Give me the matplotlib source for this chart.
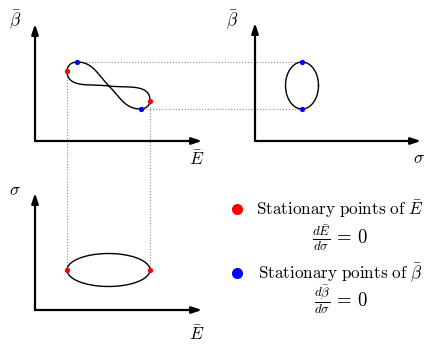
import numpy as np
import matplotlib
matplotlib.use('Agg')
import matplotlib.pyplot as plt

plt.rcParams['mathtext.fontset'] = 'cm'

# key points (pixel-like units, y downwards)
red_x = [67, 150]
red_y = [71, 100.5]
blue_x = [77, 140.5]
blue_y = [62, 109]
cross = (109, 86)
steep = (1, 1.0)       # branch blue -> blue at the crossing
shallow = (-1, -0.13)  # branch red -> red at the crossing

# bottom ellipse (E vs sigma) and right ellipse (sigma vs beta)
ell_bot = dict(cx=108.5, cy=270, rx=41.5, ry=16.5)
ell_right = dict(cx=302, cy=85.5, rx=16.5, ry=23.5)

# axes frames: origin x, origin y, x tip, y tip
frames = [(35, 141, 202, 24), (255, 141, 421, 23), (35, 310, 202, 193)]


def hermite(p0, p1, d0, d1, k=1.2, n=60):
    p0, p1 = np.array(p0, float), np.array(p1, float)
    d0 = np.array(d0, float) / np.hypot(*d0)
    d1 = np.array(d1, float) / np.hypot(*d1)
    L = np.hypot(*(p1 - p0)) * k
    t = np.linspace(0, 1, n)[:, None]
    h00 = 2 * t**3 - 3 * t**2 + 1
    h10 = t**3 - 2 * t**2 + t
    h01 = -2 * t**3 + 3 * t**2
    h11 = t**3 - t**2
    return h00 * p0 + h10 * L * d0 + h01 * p1 + h11 * L * d1


fig = plt.figure(figsize=(4.36, 3.54), dpi=100)
ax = fig.add_axes([0, 0, 1, 1])
ax.set_xlim(0, 436)
ax.set_ylim(354, 0)
ax.axis('off')

# axes arrows
for x0, y0, xt, yt in frames:
    for tip in [(xt, y0), (x0, yt)]:
        ax.annotate('', xy=tip, xytext=(x0, y0),
                    arrowprops=dict(arrowstyle='-|>,head_length=0.6,head_width=0.2',
                                    lw=1.6, color='k', shrinkA=0, shrinkB=0))

# figure-eight curve
pts = [(red_x[0], red_y[0]), (blue_x[0], blue_y[0]), cross,
       (blue_x[1], blue_y[1]), (red_x[1], red_y[1]), cross, (red_x[0], red_y[0])]
dirs = [(0, -1), (1, 0), steep, (1, 0), (0, -1), shallow, (0, -1)]
segs = [hermite(pts[i], pts[i + 1], dirs[i], dirs[i + 1]) for i in range(6)]
curve = np.vstack(segs)
ax.plot(curve[:, 0], curve[:, 1], color='k', lw=1.0, zorder=3)

# ellipses
t = np.linspace(0, 2 * np.pi, 300)
ax.plot(ell_bot['cx'] + ell_bot['rx'] * np.cos(t), ell_bot['cy'] + ell_bot['ry'] * np.sin(t),
        color='k', lw=1.0, zorder=3)
ax.plot(ell_right['cx'] + ell_right['rx'] * np.cos(t), ell_right['cy'] + ell_right['ry'] * np.sin(t),
        color='k', lw=1.0, zorder=3)

# dotted guides
dot = dict(color='0.55', lw=0.8, ls=(0, (1, 1.6)), zorder=1)
for bx, by in zip(blue_x, blue_y):
    ax.plot([bx, ell_right['cx']], [by, by], **dot)
for rx, ry in zip(red_x, red_y):
    ax.plot([rx, rx], [ry, ell_bot['cy']], **dot)

# stationary points
ax.plot(red_x, red_y, 'o', color='red', ms=3.8, mec='none', zorder=4)
ax.plot(blue_x, blue_y, 'o', color='blue', ms=3.8, mec='none', zorder=4)
ax.plot([ell_bot['cx'] - ell_bot['rx'], ell_bot['cx'] + ell_bot['rx']], [ell_bot['cy']] * 2,
        'o', color='red', ms=3.8, mec='none', zorder=4)
ax.plot([ell_right['cx']] * 2, [ell_right['cy'] - ell_right['ry'], ell_right['cy'] + ell_right['ry']],
        'o', color='blue', ms=3.8, mec='none', zorder=4)

# axis labels
fs = 12.5
ax.text(15, 20, r'$\bar{\beta}$', fontsize=fs, ha='center', va='center')
ax.text(197, 160, r'$\bar{E}$', fontsize=fs, ha='center', va='center')
ax.text(232, 20, r'$\bar{\beta}$', fontsize=fs, ha='center', va='center')
ax.text(419, 158, r'$\sigma$', fontsize=fs, ha='center', va='center')
ax.text(15, 190, r'$\sigma$', fontsize=fs, ha='center', va='center')
ax.text(197, 335, r'$\bar{E}$', fontsize=fs, ha='center', va='center')

# legend
ax.plot([237], [209], 'o', color='red', ms=8, mec='none')
ax.plot([237], [273], 'o', color='blue', ms=8, mec='none')
ax.text(256, 209, r'$\mathrm{Stationary\ points\ of}\ \bar{E}$', fontsize=12.3, va='center')
ax.text(258, 273, r'$\mathrm{Stationary\ points\ of}\ \bar{\beta}$', fontsize=12.3, va='center')
ax.text(340, 238, r'$\frac{d\bar{E}}{d\sigma}\,=\,0$', fontsize=13.5, ha='center', va='center')
ax.text(341, 300, r'$\frac{d\bar{\beta}}{d\sigma}\,=\,0$', fontsize=13.5, ha='center', va='center')

plt.savefig('out.png', dpi=100)
